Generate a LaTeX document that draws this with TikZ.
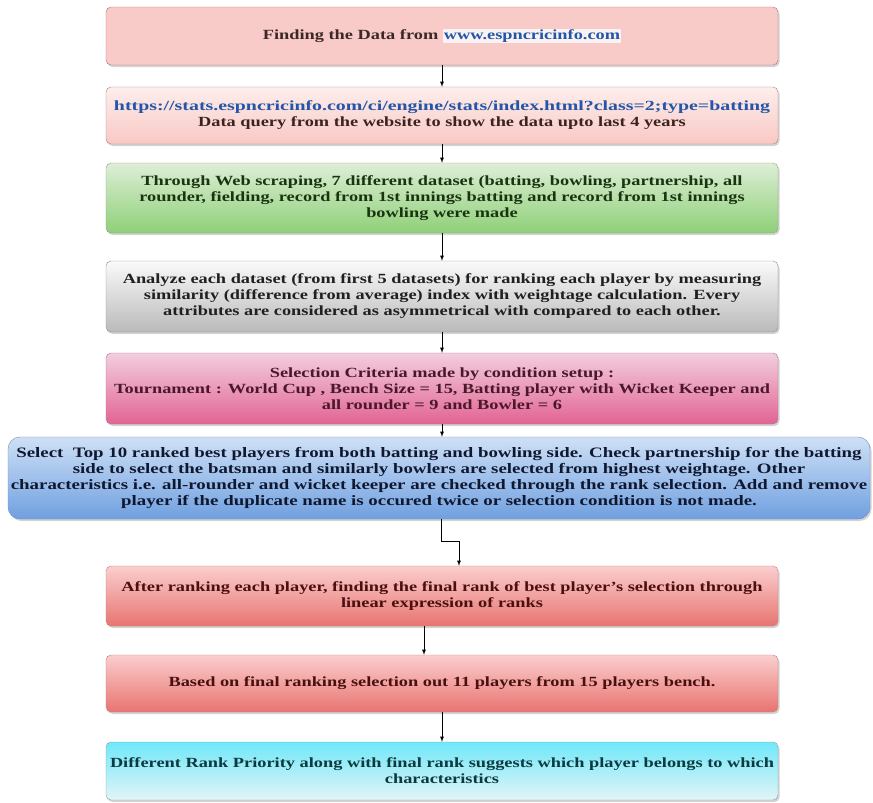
\documentclass[tikz,border=0pt]{standalone}
\usepackage{fontspec}
\setmainfont{Liberation Serif}[FakeStretch=1.31]
\newfontfamily\linkfont{Liberation Serif}[FakeStretch=1.42]
\usepackage{tikz}
\usetikzlibrary{shapes,arrows,positioning,shadows}

\definecolor{urlblue}{HTML}{2356A8}
\definecolor{linkbg}{HTML}{FBF3F3}

\newcommand{\weblink}[1]{{\setlength{\fboxsep}{1pt}\colorbox{linkbg}{\textcolor{urlblue}{#1}}}}

\tikzstyle{flowbox} = [rectangle, draw, rounded corners=5pt, align=center, inner xsep=2pt,
	font=\fontsize{14}{16}\selectfont\bfseries, minimum width=672pt,
	drop shadow={opacity=0.35, shadow xshift=1.5pt, shadow yshift=-2pt}]
\tikzstyle{findbox} = [flowbox, fill={rgb,255:red,248;green,202;blue,200}, draw={rgb,255:red,176;green,120;blue,118}, text={rgb,255:red,60;green,40;blue,40}]
\tikzstyle{querybox} = [flowbox, top color={rgb,255:red,253;green,238;blue,236}, bottom color={rgb,255:red,249;green,200;blue,196}, draw={rgb,255:red,170;green,130;blue,128}, text={rgb,255:red,60;green,36;blue,30}]
\tikzstyle{scrapebox} = [flowbox, top color={rgb,255:red,222;green,238;blue,214}, bottom color={rgb,255:red,142;green,208;blue,120}, draw={rgb,255:red,140;green,160;blue,130}, text={rgb,255:red,26;green,52;blue,18}]
\tikzstyle{analyzebox} = [flowbox, top color={rgb,255:red,250;green,250;blue,250}, bottom color={rgb,255:red,186;green,186;blue,186}, draw={rgb,255:red,140;green,140;blue,150}, text={rgb,255:red,32;green,32;blue,32}]
\tikzstyle{criteriabox} = [flowbox, top color={rgb,255:red,242;green,206;blue,222}, bottom color={rgb,255:red,226;green,100;blue,148}, draw={rgb,255:red,176;green,110;blue,140}, text={rgb,255:red,74;green,24;blue,40}]
\tikzstyle{selectbox} = [flowbox, rounded corners=12pt, minimum width=862pt, font=\fontsize{14.4}{16}\selectfont\bfseries, top color={rgb,255:red,206;green,224;blue,246}, bottom color={rgb,255:red,112;green,160;blue,224}, draw={rgb,255:red,110;green,140;blue,190}, text={rgb,255:red,16;green,24;blue,48}]
\tikzstyle{rankbox} = [flowbox, top color={rgb,255:red,250;green,206;blue,206}, bottom color={rgb,255:red,232;green,116;blue,112}, draw={rgb,255:red,190;green,130;blue,128}, text={rgb,255:red,74;green,16;blue,16}]
\tikzstyle{prioritybox} = [flowbox, top color={rgb,255:red,112;green,232;blue,248}, bottom color={rgb,255:red,226;green,244;blue,248}, draw={rgb,255:red,128;green,160;blue,168}, text={rgb,255:red,10;green,58;blue,64}]
\tikzstyle{line} = [draw, thick, -latex]

\begin{document}
\begin{tikzpicture}[x=1pt, y=-1pt]
	\useasboundingbox (0,0) rectangle (873,803);

	\node [findbox, minimum height=58pt] (find) at (442, 36) {Finding the Data from \weblink{www.espncricinfo.com}};
	\node [querybox, minimum height=57pt] (query) at (442, 115.5) {\textcolor{urlblue}{\linkfont https://stats.espncricinfo.com/ci/engine/stats/index.html?class=2;type=batting}\\
		Data query from the website to show the data upto last 4 years};
	\node [scrapebox, minimum height=70pt] (scrape) at (442, 198) {Through Web scraping, 7 different dataset (batting, bowling, partnership, all\\
		rounder, fielding, record from 1st innings batting and record from 1st innings\\
		bowling were made};
	\node [analyzebox, minimum height=71pt] (analyze) at (442, 296.5) {Analyze each dataset (from first 5 datasets) for ranking each player by measuring\\
		similarity (difference from average) index with weightage calculation. Every\\
		attributes are considered as asymmetrical with compared to each other.};
	\node [criteriabox, minimum height=71pt] (criteria) at (442, 388.5) {Selection Criteria made by condition setup :\\
		Tournament : World Cup , Bench Size = 15, Batting player with Wicket Keeper and\\
		all rounder = 9 and Bowler = 6};
	\node [selectbox, minimum height=82pt] (select) at (439, 478) {Select\ \ Top 10 ranked best players from both batting and bowling side. Check partnership for the batting\\
		side to select the batsman and similarly bowlers are selected from highest weightage. Other\\
		characteristics i.e. all-rounder and wicket keeper are checked through the rank selection. Add and remove\\
		player if the duplicate name is occured twice or selection condition is not made.};
	\node [rankbox, minimum height=60pt] (rank) at (442, 596) {After ranking each player, finding the final rank of best player's selection through\\
		linear expression of ranks};
	\node [rankbox, minimum height=57pt] (bench) at (442, 683.5) {Based on final ranking selection out 11 players from 15 players bench.};
	\node [prioritybox, minimum height=58pt] (priority) at (442, 771) {Different Rank Priority along with final rank suggests which player belongs to which\\
		characteristics};

	\path [line] (find) -- (query);
	\path [line] (query) -- (scrape);
	\path [line] (scrape) -- (analyze);
	\path [line] (analyze) -- (criteria);
	\path [line] (criteria.south) -- (criteria.south |- select.north);
	\path [line] ([xshift=2pt]select.south) -- ++(0,22) -| ([xshift=17pt]rank.north);
	\path [line] ([xshift=-18pt]rank.south) -- ([xshift=-18pt]bench.north);
	\path [line] (bench) -- (priority);
\end{tikzpicture}
\end{document}
